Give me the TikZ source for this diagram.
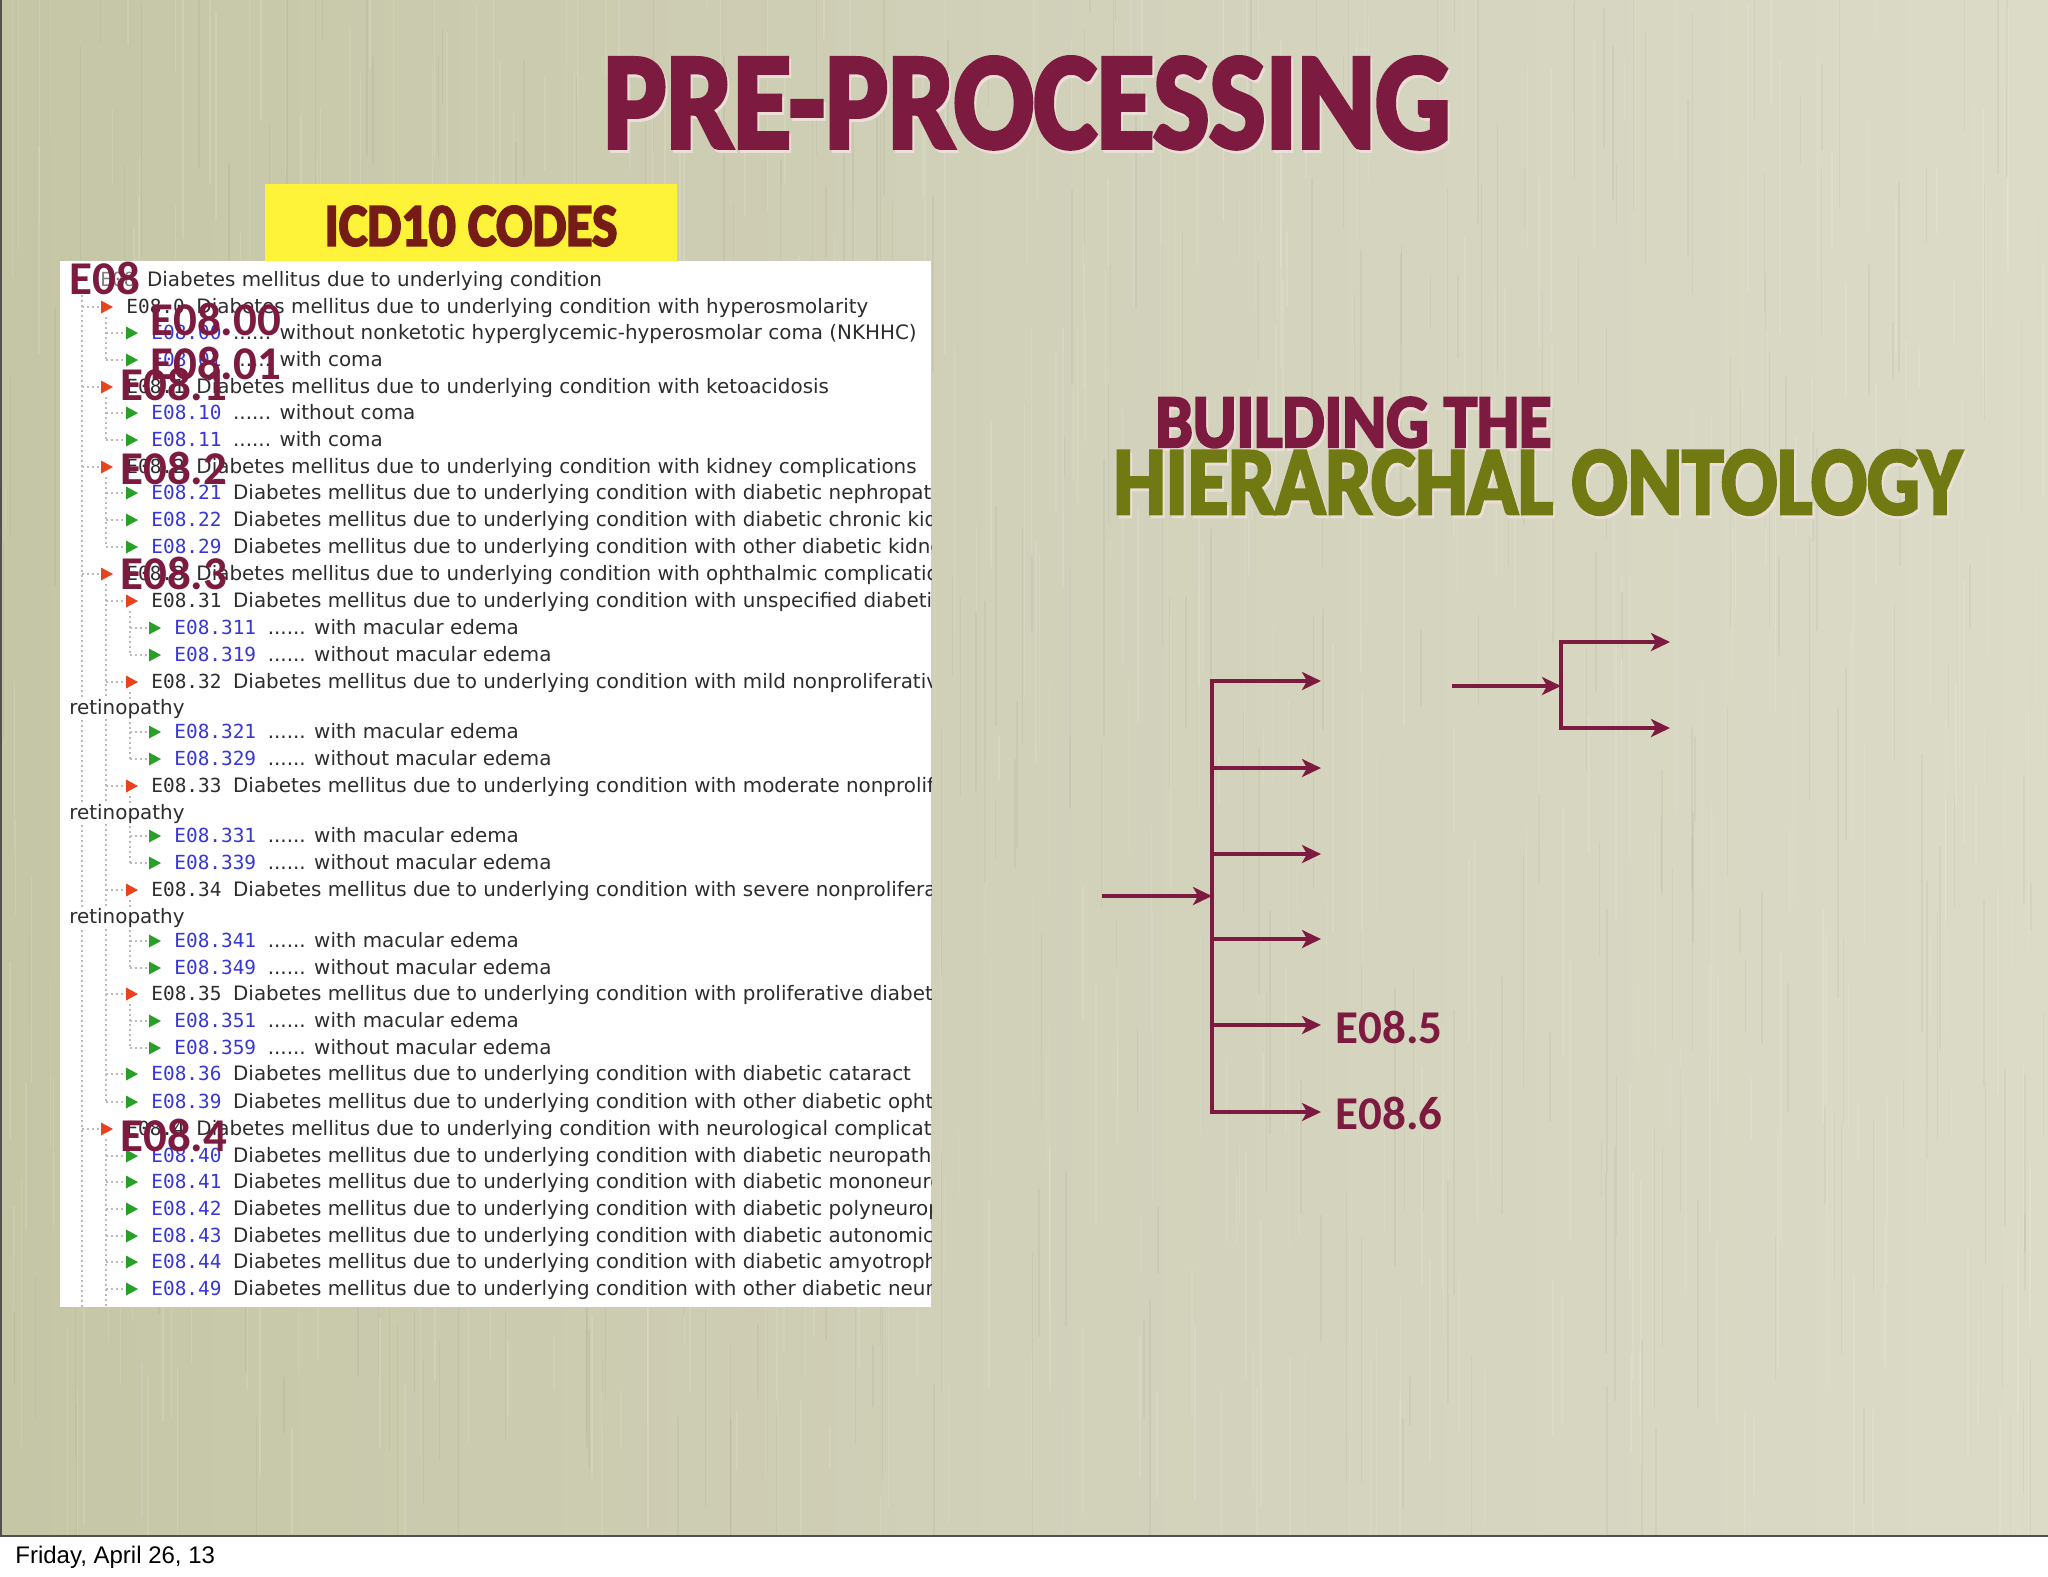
\documentclass[tikz,border=0pt]{standalone}
\usepackage{fontspec}
\usepackage{graphicx}
\setmainfont{DejaVu Sans}
\newfontfamily\scrfont{DejaVu Sans}
\newfontfamily\monofont{DejaVu Sans Mono}
\newfontfamily\labfont{Carlito}
\newfontfamily\headfont{Carlito}[BoldFeatures={FakeBold=3.5}]
\newfontfamily\datefont{Liberation Sans}
\usetikzlibrary{arrows.meta}
\definecolor{maroon}{RGB}{125,26,64}
\definecolor{olivec}{RGB}{112,121,18}
\definecolor{icdtext}{RGB}{118,28,22}
\definecolor{yellowbox}{RGB}{255,243,58}
\definecolor{bgL}{RGB}{197,198,166}
\definecolor{bgM}{RGB}{209,208,185}
\definecolor{bgR}{RGB}{220,219,200}
\definecolor{shadowc}{RGB}{236,222,214}
\definecolor{txt}{RGB}{45,45,45}
\definecolor{codeblue}{RGB}{55,55,215}
\definecolor{trired}{RGB}{232,66,30}
\definecolor{trigreen}{RGB}{40,160,40}
\definecolor{framec}{RGB}{80,80,80}
\newcommand{\kcode}[1]{{\monofont\fontsize{9.7}{11}\selectfont #1\ }}
\newcommand{\bcode}[1]{{\monofont\fontsize{9.7}{11}\selectfont\color{codeblue}#1\ }}
\newcommand{\tri}[3]{\fill[#3] (#1,#2-6.5) -- (#1,#2+6.5) -- (#1+12,#2) -- cycle;}
\begin{document}
\begin{tikzpicture}[x=0.5pt,y=-0.5pt,
  head/.style={inner sep=0, anchor=north west},
  lab/.style={inner sep=0, anchor=base west, text=maroon, font=\labfont\bfseries\fontsize{23.5}{24}\selectfont},
  rowtxt/.style={inner sep=0, anchor=base west, text=txt, font=\scrfont\fontsize{9.95}{11}\selectfont},
  tree/.style={gray!55, line width=0.6pt, dash pattern=on 1pt off 1.5pt},
  arr/.style={draw=maroon, line width=1.6pt, -{Stealth[length=9.5pt,width=9pt,inset=2.5pt]}},
  ln/.style={draw=maroon, line width=1.6pt, line cap=rect}]
\useasboundingbox (0,0) rectangle (2048,1576);
\fill[white] (0,0) rectangle (2048,1576);
\shade[left color=bgL, right color=bgR, middle color=bgM] (0,0) rectangle (2048,1536);
\begin{scope}
\clip (0,0) rectangle (2048,1536);
\pgfmathsetseed{42}
\foreach \k in {1,...,500}{
  \pgfmathsetmacro{\xa}{rnd*2048}
  \pgfmathsetmacro{\ya}{rnd*1536-100}
  \pgfmathsetmacro{\la}{40+rnd*250}
  \draw[white, opacity=0.12, line width=0.7pt] (\xa,\ya) -- ++(0,\la);
}
\foreach \k in {1,...,350}{
  \pgfmathsetmacro{\xa}{rnd*2048}
  \pgfmathsetmacro{\ya}{rnd*1536-100}
  \pgfmathsetmacro{\la}{40+rnd*250}
  \draw[black, opacity=0.035, line width=0.7pt] (\xa,\ya) -- ++(0,\la);
}
\end{scope}
\draw[framec, line width=1.2pt] (0,1536) -- (2048,1536);
\draw[framec, line width=0.8pt] (0.8,0) -- (0.8,1536);

% title
\node[head, text=shadowc] at (605,60) {\resizebox*{423.5pt}{45.5pt}{\headfont\bfseries PRE-PROCESSING}};
\node[head, text=maroon] (title) at (603,57) {\resizebox*{423.5pt}{45.5pt}{\headfont\bfseries PRE-PROCESSING}};

% ICD10 box
\node[fill=yellowbox, inner sep=0, minimum width=206pt, minimum height=42pt, text=icdtext] (icd) at (471,226) {\resizebox*{146.5pt}{20pt}{\headfont\bfseries ICD10 CODES}};

% screenshot panel
\fill[white] (60,261) rectangle (931,1307);
\begin{scope}
\clip (60,261) rectangle (931,1307);
% tree lines
\draw[tree] (82,290) -- (82,1307);
\draw[tree] (106,317) -- (106,360);
\draw[tree] (106,397) -- (106,440);
\draw[tree] (106,477) -- (106,547);
\draw[tree] (106,584) -- (106,1102);
\draw[tree] (106,1139) -- (106,1307);
\draw[tree] (130,611) -- (130,655);
\draw[tree] (130,692) -- (130,759);
\draw[tree] (130,796) -- (130,863);
\draw[tree] (130,900) -- (130,968);
\draw[tree] (130,1004) -- (130,1048);
\foreach \yy in {307,387,467,574,1129}{\draw[tree] (82,\yy) -- (99,\yy);}
\foreach \yy in {333,360,413,440,493,520,547,601,682,786,890,994,1074,1102,1156,1182,1209,1236,1262,1289}{\draw[tree] (106,\yy) -- (124,\yy);}
\foreach \yy in {628,655,732,759,836,863,941,968,1021,1048}{\draw[tree] (130,\yy) -- (147,\yy);}
% triangles
\foreach \yy in {307,387,467,574,1129}{\tri{101}{\yy}{trired}}
\foreach \yy in {601,682,786,890,994}{\tri{126}{\yy}{trired}}
\foreach \yy in {333,360,413,440,493,520,547,1074,1102,1156,1182,1209,1236,1262,1289}{\tri{126}{\yy}{trigreen}}
\foreach \yy in {628,655,732,759,836,863,941,968,1021,1048}{\tri{149}{\yy}{trigreen}}
% rows
\node[rowtxt] (r1) at (100,286) {{\monofont\fontsize{9.7}{11}\selectfont\color{gray}E08\ }Diabetes mellitus due to underlying condition};
\node[rowtxt] (r2) at (126,313) {\kcode{E08.0}Diabetes mellitus due to underlying condition with hyperosmolarity};
\node[rowtxt] (r3) at (151,339) {\bcode{E08.00}...... without nonketotic hyperglycemic-hyperosmolar coma (NKHHC)};
\node[rowtxt] (r4) at (151,366) {\bcode{E08.01}...... with coma};
\node[rowtxt] (r5) at (126,393) {\kcode{E08.1}Diabetes mellitus due to underlying condition with ketoacidosis};
\node[rowtxt] (r6) at (151,419) {\bcode{E08.10}...... without coma};
\node[rowtxt] (r7) at (151,446) {\bcode{E08.11}...... with coma};
\node[rowtxt] (r8) at (126,473) {\kcode{E08.2}Diabetes mellitus due to underlying condition with kidney complications};
\node[rowtxt] (r9) at (151,499) {\bcode{E08.21}Diabetes mellitus due to underlying condition with diabetic nephropathy};
\node[rowtxt] (r10) at (151,526) {\bcode{E08.22}Diabetes mellitus due to underlying condition with diabetic chronic kidney disease};
\node[rowtxt] (r11) at (151,553) {\bcode{E08.29}Diabetes mellitus due to underlying condition with other diabetic kidney complication};
\node[rowtxt] (r12) at (126,580) {\kcode{E08.3}Diabetes mellitus due to underlying condition with ophthalmic complications};
\node[rowtxt] (r13) at (151,607) {\kcode{E08.31}Diabetes mellitus due to underlying condition with unspecified diabetic retinopathy};
\node[rowtxt] (r14) at (174,634) {\bcode{E08.311}...... with macular edema};
\node[rowtxt] (r15) at (174,661) {\bcode{E08.319}...... without macular edema};
\node[rowtxt] (r16) at (151,688) {\kcode{E08.32}Diabetes mellitus due to underlying condition with mild nonproliferative diabetic};
\node[rowtxt, fill=white] (r17) at (69,714) {retinopathy};
\node[rowtxt] (r18) at (174,738) {\bcode{E08.321}...... with macular edema};
\node[rowtxt] (r19) at (174,765) {\bcode{E08.329}...... without macular edema};
\node[rowtxt] (r20) at (151,792) {\kcode{E08.33}Diabetes mellitus due to underlying condition with moderate nonproliferative diabetic};
\node[rowtxt, fill=white] (r21) at (69,819) {retinopathy};
\node[rowtxt] (r22) at (174,842) {\bcode{E08.331}...... with macular edema};
\node[rowtxt] (r23) at (174,869) {\bcode{E08.339}...... without macular edema};
\node[rowtxt] (r24) at (151,896) {\kcode{E08.34}Diabetes mellitus due to underlying condition with severe nonproliferative diabetic};
\node[rowtxt, fill=white] (r25) at (69,923) {retinopathy};
\node[rowtxt] (r26) at (174,947) {\bcode{E08.341}...... with macular edema};
\node[rowtxt] (r27) at (174,974) {\bcode{E08.349}...... without macular edema};
\node[rowtxt] (r28) at (151,1000) {\kcode{E08.35}Diabetes mellitus due to underlying condition with proliferative diabetic retinopathy};
\node[rowtxt] (r29) at (174,1027) {\bcode{E08.351}...... with macular edema};
\node[rowtxt] (r30) at (174,1054) {\bcode{E08.359}...... without macular edema};
\node[rowtxt] (r31) at (151,1080) {\bcode{E08.36}Diabetes mellitus due to underlying condition with diabetic cataract};
\node[rowtxt] (r32) at (151,1108) {\bcode{E08.39}Diabetes mellitus due to underlying condition with other diabetic ophthalmic complication};
\node[rowtxt] (r33) at (126,1135) {\kcode{E08.4}Diabetes mellitus due to underlying condition with neurological complications};
\node[rowtxt] (r34) at (151,1162) {\bcode{E08.40}Diabetes mellitus due to underlying condition with diabetic neuropathy};
\node[rowtxt] (r35) at (151,1188) {\bcode{E08.41}Diabetes mellitus due to underlying condition with diabetic mononeuropathy};
\node[rowtxt] (r36) at (151,1215) {\bcode{E08.42}Diabetes mellitus due to underlying condition with diabetic polyneuropathy};
\node[rowtxt] (r37) at (151,1242) {\bcode{E08.43}Diabetes mellitus due to underlying condition with diabetic autonomic neuropathy};
\node[rowtxt] (r38) at (151,1268) {\bcode{E08.44}Diabetes mellitus due to underlying condition with diabetic amyotrophy};
\node[rowtxt] (r39) at (151,1295) {\bcode{E08.49}Diabetes mellitus due to underlying condition with other diabetic neurological complication};
\end{scope}

% overlay labels
\node[lab] (l0) at (69,294) {E08};
\node[lab] (l00) at (150,335) {E08.00};
\node[lab] (l01) at (150,379) {E08.01};
\node[lab] (l1) at (120,400) {E08.1};
\node[lab] (l2) at (120,484) {E08.2};
\node[lab] (l3) at (120,589) {E08.3};
\node[lab] (l4) at (120,1151) {E08.4};

% right headings
\node[head, text=shadowc] at (1157,400) {\resizebox*{198pt}{25pt}{\headfont\bfseries BUILDING THE}};
\node[head, text=maroon] (build) at (1155,397) {\resizebox*{198pt}{25pt}{\headfont\bfseries BUILDING THE}};
\node[head, text=shadowc] at (1115,453) {\resizebox*{424pt}{32pt}{\headfont\bfseries HIERARCHAL ONTOLOGY}};
\node[head, text=olivec] (hier) at (1113,450) {\resizebox*{424pt}{32pt}{\headfont\bfseries HIERARCHAL ONTOLOGY}};

% first tree
\coordinate (in1) at (1102,896);
\coordinate (b0) at (1212,896);
\coordinate (b1) at (1212,681);
\coordinate (b2) at (1212,768);
\coordinate (b3) at (1212,854);
\coordinate (b4) at (1212,939);
\coordinate (b5) at (1212,1025);
\coordinate (b6) at (1212,1112);
\coordinate (t1) at (1321,681);
\coordinate (t2) at (1321,768);
\coordinate (t3) at (1321,854);
\coordinate (t4) at (1321,939);
\coordinate (t5) at (1321,1025);
\coordinate (t6) at (1321,1112);
\draw[ln] (b1) -- (b6);
\draw[arr] (in1) -- (b0);
\foreach \i in {1,...,6}{\draw[arr] (b\i) -- (t\i);}
\node[lab] (e5) at (1335,1043) {E08.5};
\node[lab] (e6) at (1335,1129) {E08.6};

% second tree
\coordinate (in2) at (1452,686);
\coordinate (c0) at (1561,686);
\coordinate (c1) at (1561,642);
\coordinate (c2) at (1561,728);
\coordinate (u1) at (1670,642);
\coordinate (u2) at (1670,728);
\draw[ln] (c1) -- (c2);
\draw[arr] (in2) -- (c0);
\draw[arr] (c1) -- (u1);
\draw[arr] (c2) -- (u2);

% date
\node[anchor=base west, inner sep=0, font=\datefont\fontsize{12}{14}\selectfont] (date) at (15,1563) {Friday, April 26, 13};
\end{tikzpicture}
\end{document}
